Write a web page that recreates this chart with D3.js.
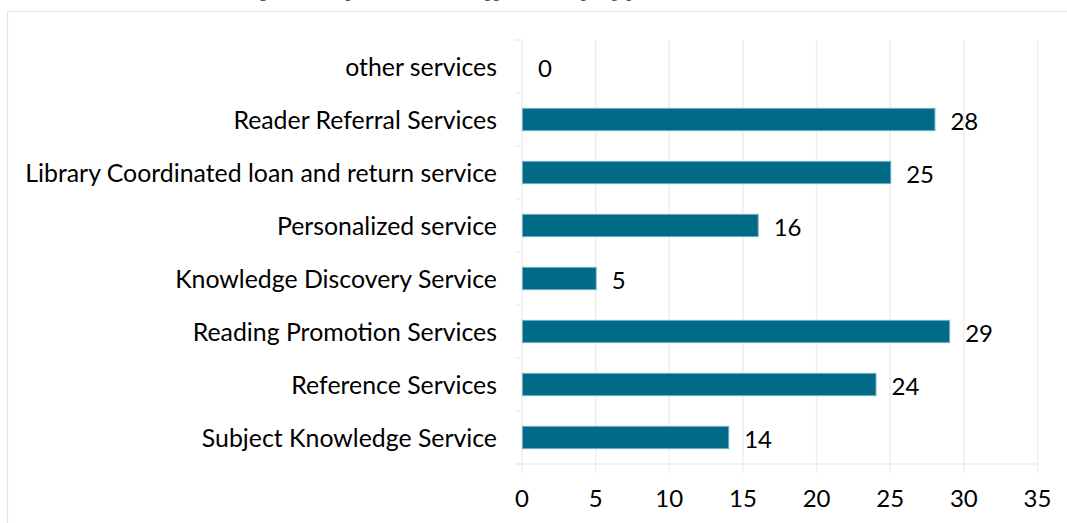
<!DOCTYPE html>
<html>
<head>
<meta charset="utf-8">
<script src="https://cdn.jsdelivr.net/npm/d3@7"></script>
<style>
  html, body { margin: 0; padding: 0; background: #fff; }
  svg { display: block; }
  text { font-family: Lato, "Open Sans", sans-serif; fill: #000; }
</style>
</head>
<body>
<svg id="chart" width="1067" height="523"></svg>
<script>
const categories = [
  "other services",
  "Reader Referral Services",
  "Library Coordinated loan and return service",
  "Personalized service",
  "Knowledge Discovery Service",
  "Reading Promotion Services",
  "Reference Services",
  "Subject Knowledge Service"
];
const values = [0, 28, 25, 16, 5, 29, 24, 14];
const xTicks = [0, 5, 10, 15, 20, 25, 30, 35];
const titleText = "Statistics of library services offered by type";

(function () {
const svg = d3.select("#chart");
const pL = 522, pR = 1037.5, pT = 40, pB = 464;

// frame
svg.append("rect").attr("x", 7.5).attr("y", 11.5).attr("width", 1100).attr("height", 600)
  .attr("fill", "#fff").attr("stroke", "#e6e6e6").attr("stroke-width", 1.2);

// cut-off title (only descenders visible, as in the reference)
const title = svg.append("text").attr("x", 0).attr("y", -5)
  .style("font-family", "'Noto Sans', sans-serif")
  .style("font-weight", "bold").style("font-style", "italic")
  .style("font-size", "26px").style("fill", "#0e6b78")
  .text(titleText);
try {
  const idx = titleText.lastIndexOf("ype");
  const px = title.node().getStartPositionOfChar(idx).x;
  title.attr("x", 614 - px);
} catch (e) { title.attr("x", 150); }

const x = d3.scaleLinear().domain([0, 35]).range([pL, pR]);
const y = d3.scaleBand().domain(categories).range([pT, pB]).paddingInner(0.58).paddingOuter(0.29);
const yb = d3.scaleBand().domain(categories).range([pT, pB]);

const grid = "#eeeeee";
svg.append("g").selectAll("line").data(xTicks).join("line")
  .attr("x1", d => x(d)).attr("x2", d => x(d))
  .attr("y1", pT).attr("y2", pB + 9)
  .attr("stroke", grid).attr("stroke-width", 1.5);

svg.append("line").attr("x1", pL - 7).attr("x2", pR).attr("y1", pB).attr("y2", pB)
  .attr("stroke", grid).attr("stroke-width", 1.5);

const bounds = categories.map(c => yb(c)).concat([pB]);
svg.append("g").selectAll("line").data(bounds).join("line")
  .attr("x1", pL - 7).attr("x2", pL).attr("y1", d => d).attr("y2", d => d)
  .attr("stroke", grid).attr("stroke-width", 1.5);

svg.append("g").selectAll("rect").data(values).join("rect")
  .attr("x", x(0) + 0.5)
  .attr("y", (d, i) => y(categories[i]))
  .attr("width", d => Math.max(0, x(d) - x(0)))
  .attr("height", y.bandwidth())
  .attr("fill", d => d > 0 ? "#006a87" : "none")
  .attr("stroke", d => d > 0 ? "#6fb0c4" : "none")
  .attr("stroke-width", 1);

const fs = 23.5;
const labels = svg.append("g").selectAll("text").data(categories).join("text")
  .attr("x", 497)
  .attr("y", d => yb(d) + yb.bandwidth() / 2 - 1)
  .attr("text-anchor", "end")
  .attr("dominant-baseline", "central")
  .style("font-size", fs + "px")
  .text(d => d);

let maxLen = 0;
labels.each(function() { maxLen = Math.max(maxLen, this.getComputedTextLength()); });
const fs2 = fs * 472 / maxLen;
labels.style("font-size", fs2 + "px");

svg.append("g").selectAll("text").data(values).join("text")
  .attr("x", d => x(d) + 16)
  .attr("y", (d, i) => yb(categories[i]) + yb.bandwidth() / 2 + 1)
  .attr("dominant-baseline", "central")
  .style("font-size", "24px")
  .text(d => d);

svg.append("g").selectAll("text").data(xTicks).join("text")
  .attr("x", d => x(d))
  .attr("y", 497)
  .attr("text-anchor", "middle")
  .attr("dominant-baseline", "central")
  .style("font-size", "24px")
  .text(d => d);
})();
</script>
</body>
</html>
